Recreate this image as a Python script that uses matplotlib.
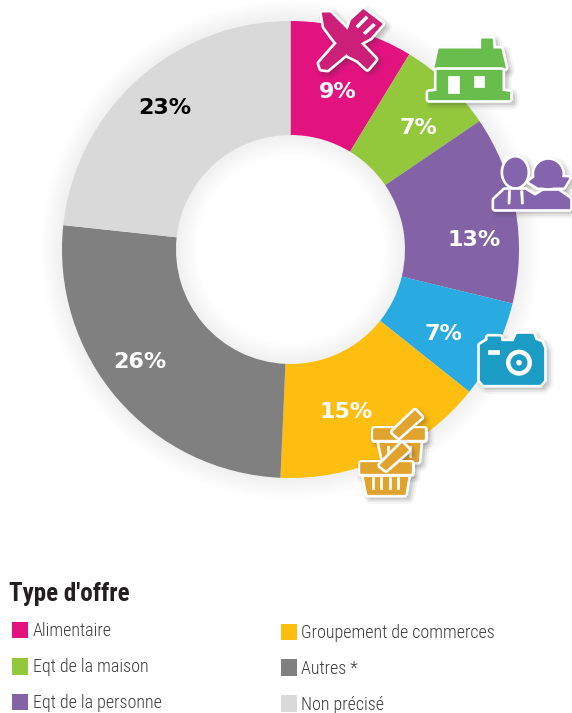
import matplotlib
matplotlib.use("Agg")
import matplotlib.pyplot as plt
import numpy as np
from matplotlib.patches import Circle, Polygon, Rectangle, Wedge

W, H = 572, 713

categories = ["Alimentaire", "Eqt de la maison", "Eqt de la personne", "Appareils",
              "Groupement de commerces", "Autres *", "Non précisé"]
values = [8.7, 6.8, 13.3, 6.9, 15.0, 26.0, 23.3]
labels = ["9%", "7%", "13%", "7%", "15%", "26%", "23%"]
colors = ["#e2127f", "#93c83d", "#8363a6", "#29abe2", "#fdbe10", "#808080", "#d9d9d9"]
label_colors = ["white", "white", "white", "white", "white", "white", "black"]
label_pos = [(338, 92.5), (418, 128.5), (474, 239.5), (443, 333.5), (346, 412.5), (140, 361.5), (165, 107.5)]

legend_left = [0, 1, 2]
legend_right = [4, 5, 6]
legend_left_y = [630, 666.5, 702]
legend_right_y = [632, 667.5, 703.5]

fig = plt.figure(figsize=(W / 100, H / 100), dpi=100)
ax = fig.add_axes([0, 0, 1, 1])

cx, cy = 290.5, H - 249.5
R, hole = 228.5, 114.5

# soft shadow of the ring
for i in range(16):
    ax.add_patch(Wedge((cx, cy), R + i * 1.4, 0, 360, width=R - hole + i * 2.8,
                       fc="black", ec="none", alpha=0.0045, zorder=1))

ax.pie(values, colors=colors, radius=R, center=(cx, cy), startangle=90, counterclock=False,
       wedgeprops=dict(width=R - hole, linewidth=0, zorder=2), normalize=True)

ax.set_xlim(0, W)
ax.set_ylim(0, H)
ax.set_aspect("equal")
ax.axis("off")

for lab, col, (x, y) in zip(labels, label_colors, label_pos):
    ax.text(x, H - y, lab, color=col, fontsize=16, fontweight="bold", family="DejaVu Sans",
            ha="center", va="center", zorder=3)


def z1(pts):
    return [(280 + x / 3, H - y / 3) for x, y in pts]


def z2(pts):
    return [(340 + x / 3, H - (320 + y / 3)) for x, y in pts]


def oval(conv, xc, yc, rx, ry):
    t = np.linspace(0, 2 * np.pi, 40)
    return conv(list(zip(xc + rx * np.cos(t), yc + ry * np.sin(t))))


zlevel = [4]


def icon(shapes, col, white=(), stacked=False):
    # shadow, white outline, fill, then the white details. stacked keeps an outline between shapes
    for s in shapes:
        for lw, a in [(10, 0.05), (7, 0.08), (4, 0.12)]:
            ax.add_patch(Polygon([(x + 3, y - 3) for x, y in s], closed=True, fc="#333333", ec="#333333",
                                 lw=lw, alpha=a, joinstyle="round", zorder=zlevel[0]))
    zlevel[0] += 1
    if stacked:
        for s in shapes:
            ax.add_patch(Polygon(s, closed=True, fc="white", ec="white", lw=5, joinstyle="round", zorder=zlevel[0]))
            ax.add_patch(Polygon(s, closed=True, fc=col, ec=col, lw=1.2, joinstyle="round", zorder=zlevel[0] + 1))
            zlevel[0] += 2
    else:
        for s in shapes:
            ax.add_patch(Polygon(s, closed=True, fc="white", ec="white", lw=5, joinstyle="round", zorder=zlevel[0]))
        for s in shapes:
            ax.add_patch(Polygon(s, closed=True, fc=col, ec=col, lw=1.2, joinstyle="round", zorder=zlevel[0] + 1))
        zlevel[0] += 2
    for s in white:
        ax.add_patch(Polygon(s, closed=True, fc="white", ec="white", lw=0.5, zorder=zlevel[0]))
    zlevel[0] += 1


# knife and fork
icon([z1([(128, 40), (150, 40), (205, 95), (285, 178), (262, 205), (235, 180), (205, 165), (165, 120), (135, 80)]),
      z1([(120, 190), (200, 100), (235, 130), (142, 207), (125, 205)]),
      z1([(200, 105), (215, 62), (250, 30), (305, 72), (270, 112), (228, 135)])],
     "#cc1f78",
     [z1([(228, 78), (258, 48), (264, 54), (234, 84)]), z1([(250, 98), (280, 70), (286, 76), (256, 104)])])

# house
icon([z1([(466, 203), (675, 203), (662, 148), (638, 148), (636, 118), (606, 118), (606, 148), (478, 148)]),
      z1([(472, 212), (665, 212), (665, 275), (688, 278), (688, 298), (447, 298), (447, 278), (472, 275)])],
     "#69bd4c",
     [z1([(503, 228), (537, 228), (537, 278), (503, 278)]), z1([(583, 228), (612, 228), (612, 260), (583, 260)])],
     stacked=True)

# people
icon([oval(z1, 706, 517, 34, 42),
      oval(z1, 805, 522, 40, 40),
      z1([(750, 545), (770, 530), (865, 535), (850, 560), (775, 560)]),
      z1([(645, 625), (645, 600), (675, 572), (735, 572), (765, 590), (790, 575), (835, 575), (868, 598), (868, 625)])],
     "#8464ad",
     [z1([(685, 572), (692, 572), (690, 612), (684, 612)]), z1([(722, 572), (729, 572), (730, 612), (724, 612)])])

# camera
icon([z2([(422, 76), (445, 62), (445, 52), (480, 52), (482, 66), (522, 66), (532, 44), (578, 44), (585, 62),
          (602, 68), (610, 85), (610, 180), (600, 192), (432, 192), (422, 180)])],
     "#1a9cc4",
     [z2([(445, 90), (478, 90), (478, 103), (445, 103)])])
cam_x, cam_y = z2([(537, 128)])[0]
ax.add_patch(Circle((cam_x, cam_y), 13, fc="white", ec="none", zorder=zlevel[0]))
ax.add_patch(Circle((cam_x, cam_y), 8.5, fc="#1a9cc4", ec="none", zorder=zlevel[0] + 1))
ax.add_patch(Circle((cam_x, cam_y), 2.8, fc="white", ec="none", zorder=zlevel[0] + 2))
zlevel[0] += 3

# baskets, back one first
icon([z2([(118, 360), (240, 360), (234, 424), (132, 424)]),
      z2([(103, 328), (252, 328), (252, 358), (103, 358)]),
      z2([(160, 336), (225, 274), (242, 292), (176, 350)])],
     "#e0a32e",
     [z2([(140, 378), (146, 378), (146, 412), (140, 412)]), z2([(208, 378), (214, 378), (214, 412), (208, 412)])],
     stacked=True)
icon([z2([(72, 462), (204, 462), (194, 522), (84, 522)]),
      z2([(62, 428), (212, 428), (212, 458), (62, 458)]),
      z2([(122, 436), (186, 372), (204, 390), (138, 448)])],
     "#e0a32e",
     [z2([(96, 472), (101, 472), (101, 506), (96, 506)]), z2([(121, 472), (126, 472), (126, 506), (121, 506)]),
      z2([(147, 472), (152, 472), (152, 506), (147, 506)]), z2([(172, 472), (177, 472), (177, 506), (172, 506)])],
     stacked=True)

# legend
ax.text(9, H - 594, "Type d'offre", family="Roboto Condensed", fontweight="bold", fontsize=18,
        color="#231f20", ha="left", va="center")
for idx, y in zip(legend_left, legend_left_y):
    ax.add_patch(Rectangle((12, H - y - 8), 16, 16.5, fc=colors[idx], ec="none"))
    ax.text(33, H - y - 1, categories[idx], family="Roboto Condensed", fontweight="light", fontsize=13,
            color="#3c3c3c", ha="left", va="center")
for idx, y in zip(legend_right, legend_right_y):
    ax.add_patch(Rectangle((281, H - y - 8), 16, 16.5, fc=colors[idx], ec="none"))
    ax.text(301, H - y - 1, categories[idx], family="Roboto Condensed", fontweight="light", fontsize=13,
            color="#3c3c3c", ha="left", va="center")

fig.savefig("out.png", dpi=100)
